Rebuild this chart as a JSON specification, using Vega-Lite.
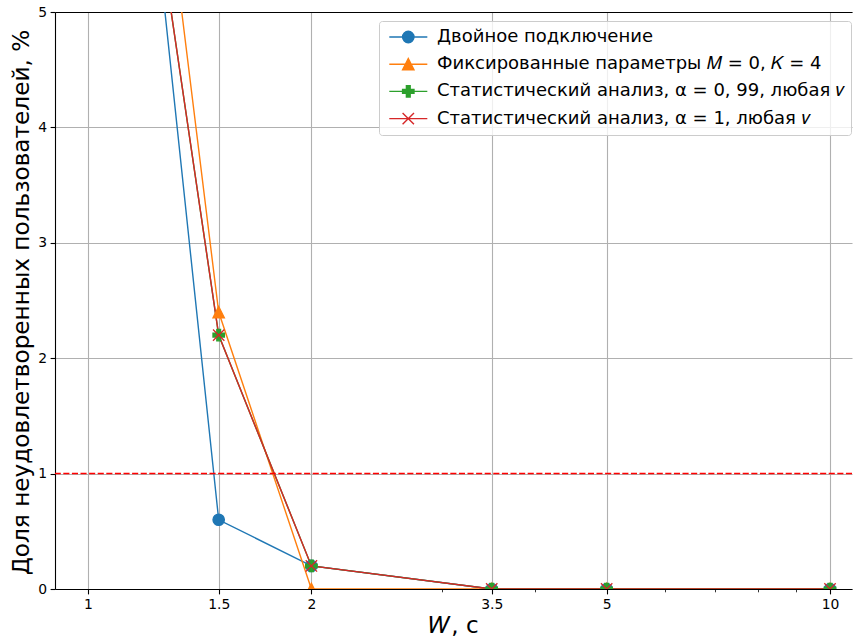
{
  "$schema": "https://vega.github.io/schema/vega-lite/v6.json",
  "width": 797,
  "height": 577,
  "autosize": {"type": "none"},
  "padding": {"left": 55, "top": 12, "right": 1, "bottom": 53},
  "background": "white",
  "config": {
    "font": "DejaVu Sans",
    "view": {"stroke": null},
    "axis": {"labelFont": "DejaVu Sans", "titleFont": "DejaVu Sans", "labelColor": "#000000", "titleColor": "#000000"},
    "legend": {
      "orient": "none",
      "legendX": 324,
      "legendY": 9,
      "padding": 7,
      "strokeColor": "#cccccc",
      "fillColor": "rgba(255,255,255,0.8)",
      "cornerRadius": 3,
      "labelFont": "DejaVu Sans",
      "labelFontSize": 18,
      "labelColor": "#000000",
      "labelLimit": 800,
      "labelOffset": 33,
      "rowPadding": 9.2,
      "symbolSize": 130,
      "symbolStrokeWidth": 1.4,
      "symbolOpacity": 1
    }
  },
  "datasets": {
    "series": [
      {"W": 1, "share": 11.3, "series": "Двойное подключение"},
      {"W": 1.5, "share": 0.6, "series": "Двойное подключение"},
      {"W": 2, "share": 0.2, "series": "Двойное подключение"},
      {"W": 3.5, "share": 0, "series": "Двойное подключение"},
      {"W": 5, "share": 0, "series": "Двойное подключение"},
      {"W": 10, "share": 0, "series": "Двойное подключение"},
      {"W": 1, "share": 11.6, "series": "Фиксированные параметры 𝑀 = 0, 𝐾 = 4"},
      {"W": 1.5, "share": 2.4, "series": "Фиксированные параметры 𝑀 = 0, 𝐾 = 4"},
      {"W": 2, "share": 0, "series": "Фиксированные параметры 𝑀 = 0, 𝐾 = 4"},
      {"W": 3.5, "share": 0, "series": "Фиксированные параметры 𝑀 = 0, 𝐾 = 4"},
      {"W": 5, "share": 0, "series": "Фиксированные параметры 𝑀 = 0, 𝐾 = 4"},
      {"W": 10, "share": 0, "series": "Фиксированные параметры 𝑀 = 0, 𝐾 = 4"},
      {"W": 1, "share": 9.9, "series": "Статистический анализ, α = 0, 99, любая 𝑣"},
      {"W": 1.5, "share": 2.2, "series": "Статистический анализ, α = 0, 99, любая 𝑣"},
      {"W": 2, "share": 0.2, "series": "Статистический анализ, α = 0, 99, любая 𝑣"},
      {"W": 3.5, "share": 0, "series": "Статистический анализ, α = 0, 99, любая 𝑣"},
      {"W": 5, "share": 0, "series": "Статистический анализ, α = 0, 99, любая 𝑣"},
      {"W": 10, "share": 0, "series": "Статистический анализ, α = 0, 99, любая 𝑣"},
      {"W": 1, "share": 9.9, "series": "Статистический анализ, α = 1, любая 𝑣"},
      {"W": 1.5, "share": 2.2, "series": "Статистический анализ, α = 1, любая 𝑣"},
      {"W": 2, "share": 0.2, "series": "Статистический анализ, α = 1, любая 𝑣"},
      {"W": 3.5, "share": 0, "series": "Статистический анализ, α = 1, любая 𝑣"},
      {"W": 5, "share": 0, "series": "Статистический анализ, α = 1, любая 𝑣"},
      {"W": 10, "share": 0, "series": "Статистический анализ, α = 1, любая 𝑣"}
    ],
    "thr": [{"threshold": 1}]
  },
  "layer": [
    {
      "data": {"name": "series"},
      "mark": {"type": "line", "clip": true, "strokeWidth": 1.4},
      "encoding": {
        "x": {
          "field": "W", "type": "quantitative",
          "scale": {"type": "log", "domain": [0.9026, 10.706], "nice": false},
          "axis": {
            "orient": "bottom",
            "values": [1, 1.5, 2, 3.5, 5, 10],
            "format": "~g",
            "title": "𝑊, с",
            "titleFontSize": 23,
            "titleFontWeight": "normal",
            "titleY": 43,
            "titleBaseline": "alphabetic",
            "labelFontSize": 13.9,
            "labelPadding": 3.5,
            "labelFlush": false,
            "labelOverlap": false,
            "tickSize": 4.9,
            "tickColor": "#000000",
            "tickWidth": 1.1,
            "grid": true,
            "gridColor": "#b0b0b0",
            "gridWidth": 1.1,
            "domain": true,
            "domainColor": "#000000",
            "domainWidth": 1.1
          }
        },
        "y": {
          "field": "share", "type": "quantitative",
          "scale": {"domain": [0, 5], "nice": false, "zero": false},
          "title": "Доля неудовлетворенных пользователей, %",
          "axis": {
            "values": [0, 1, 2, 3, 4, 5],
            "format": "d",
            "title": "Доля неудовлетворенных пользователей, %",
            "titleFontSize": 23.2,
            "titleFontWeight": "normal",
            "titleX": -34,
            "titleY": 290,
            "titleAngle": -90,
            "titleAlign": "center",
            "titleBaseline": "middle",
            "labelFontSize": 13.9,
            "labelPadding": 3.5,
            "labelFlush": false,
            "tickSize": 4.9,
            "tickColor": "#000000",
            "tickWidth": 1.1,
            "grid": true,
            "gridColor": "#b0b0b0",
            "gridWidth": 1.1,
            "domain": true,
            "domainColor": "#000000",
            "domainWidth": 1.1
          }
        },
        "color": {
          "field": "series", "type": "nominal",
          "scale": {
            "domain": ["Двойное подключение", "Фиксированные параметры 𝑀 = 0, 𝐾 = 4", "Статистический анализ, α = 0, 99, любая 𝑣", "Статистический анализ, α = 1, любая 𝑣"],
            "range": ["#1f77b4", "#ff7f0e", "#2ca02c", "#d62728"]
          },
          "legend": null
        }
      }
    },
    {
      "data": {"name": "thr"},
      "mark": {"type": "rule", "color": "#ff0000", "strokeWidth": 1.5, "strokeDash": [6.1, 2.5], "clip": true},
      "encoding": {
        "y": {"field": "threshold", "type": "quantitative", "title": "Доля неудовлетворенных пользователей, %"}
      }
    },
    {
      "data": {"name": "series"},
      "mark": {"type": "point", "filled": true, "clip": true, "size": 130, "strokeWidth": 1.3, "opacity": 1},
      "encoding": {
        "x": {
          "field": "W", "type": "quantitative",
          "axis": {
            "orient": "bottom",
            "values": [3, 4, 6, 7, 8, 9],
            "labels": false,
            "grid": false,
            "domain": false,
            "ticks": true,
            "tickSize": 2.8,
            "tickWidth": 0.8,
            "tickColor": "#000000",
            "title": null
          }
        },
        "y": {"field": "share", "type": "quantitative", "title": "Доля неудовлетворенных пользователей, %"},
        "fill": {
          "field": "series", "type": "nominal",
          "scale": {
            "domain": ["Двойное подключение", "Фиксированные параметры 𝑀 = 0, 𝐾 = 4", "Статистический анализ, α = 0, 99, любая 𝑣", "Статистический анализ, α = 1, любая 𝑣"],
            "range": ["#1f77b4", "#ff7f0e", "#2ca02c", "#d62728"]
          },
          "legend": null
        },
        "stroke": {
          "field": "series", "type": "nominal",
          "scale": {
            "domain": ["Двойное подключение", "Фиксированные параметры 𝑀 = 0, 𝐾 = 4", "Статистический анализ, α = 0, 99, любая 𝑣", "Статистический анализ, α = 1, любая 𝑣"],
            "range": ["#1f77b4", "#ff7f0e", "#2ca02c", "#d62728"]
          },
          "legend": null
        },
        "shape": {
          "field": "series", "type": "nominal",
          "scale": {
            "domain": ["Двойное подключение", "Фиксированные параметры 𝑀 = 0, 𝐾 = 4", "Статистический анализ, α = 0, 99, любая 𝑣", "Статистический анализ, α = 1, любая 𝑣"],
            "range": ["circle", "M0,-1L-1,1L1,1Z", "M-0.33,-1H0.33V-0.33H1V0.33H0.33V1H-0.33V0.33H-1V-0.33H-0.33Z", "M-1,-1L1,1M-1,1L1,-1"]
          },
          "legend": null
        }
      }
    },
    {
      "data": {"name": "series"},
      "mark": {"type": "point", "filled": true, "clip": true, "size": 130, "strokeWidth": 1.4, "opacity": 0},
      "encoding": {
        "x": {
          "field": "W", "type": "quantitative",
          "axis": {
            "orient": "top",
            "domain": true,
            "domainColor": "#000000",
            "domainWidth": 1.1,
            "ticks": false,
            "labels": false,
            "grid": false,
            "title": null
          }
        },
        "y": {"field": "share", "type": "quantitative", "title": "Доля неудовлетворенных пользователей, %"},
        "fill": {
          "field": "series", "type": "nominal",
          "scale": {
            "domain": ["Двойное подключение", "Фиксированные параметры 𝑀 = 0, 𝐾 = 4", "Статистический анализ, α = 0, 99, любая 𝑣", "Статистический анализ, α = 1, любая 𝑣"],
            "range": ["#1f77b4", "#ff7f0e", "#2ca02c", "#d62728"]
          },
          "legend": {"title": null}
        },
        "stroke": {
          "field": "series", "type": "nominal",
          "scale": {
            "domain": ["Двойное подключение", "Фиксированные параметры 𝑀 = 0, 𝐾 = 4", "Статистический анализ, α = 0, 99, любая 𝑣", "Статистический анализ, α = 1, любая 𝑣"],
            "range": ["#1f77b4", "#ff7f0e", "#2ca02c", "#d62728"]
          },
          "legend": {"title": null}
        },
        "shape": {
          "field": "series", "type": "nominal",
          "scale": {
            "domain": ["Двойное подключение", "Фиксированные параметры 𝑀 = 0, 𝐾 = 4", "Статистический анализ, α = 0, 99, любая 𝑣", "Статистический анализ, α = 1, любая 𝑣"],
            "range": [
              "M-1,0H5.67M3.33,0A1,1 0 1,1 1.33,0A1,1 0 1,1 3.33,0Z",
              "M-1,0H5.67M2.33,-1L1.33,1L3.33,1Z",
              "M-1,0H5.67M2,-1H2.66V-0.33H3.33V0.33H2.66V1H2V0.33H1.33V-0.33H2Z",
              "M-1,0H5.67M1.33,-1L3.33,1M1.33,1L3.33,-1"
            ]
          },
          "legend": {"title": null}
        }
      }
    }
  ],
  "resolve": {
    "scale": {"shape": "independent", "fill": "independent", "stroke": "independent"},
    "axis": {"x": "independent"}
  }
}
